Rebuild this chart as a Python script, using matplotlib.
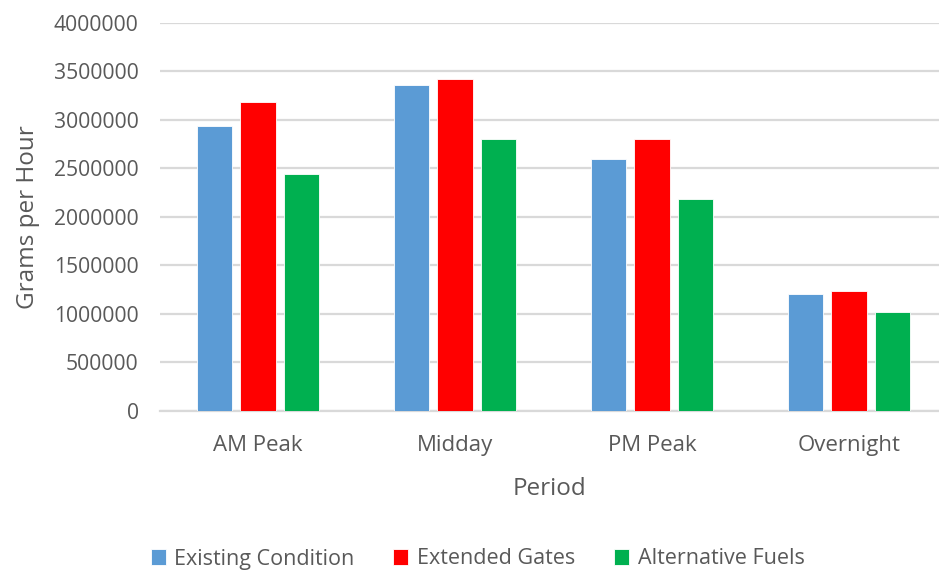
import matplotlib
matplotlib.use("Agg")
import matplotlib.pyplot as plt
import numpy as np

categories = ["AM Peak", "Midday", "PM Peak", "Overnight"]
series_names = ["Existing Condition", "Extended Gates", "Alternative Fuels"]
existing = [2933000, 3356000, 2596000, 1201000]
extended = [3188000, 3418000, 2803000, 1239000]
alternative = [2444000, 2803000, 2186000, 1022000]
yticks = [0, 500000, 1000000, 1500000, 2000000, 2500000, 3000000, 3500000, 4000000]
colors = ["#5B9BD5", "#FF0000", "#00B050"]

plt.rcParams['font.family'] = ['Open Sans', 'DejaVu Sans']
txt = "#595959"
grid = "#D9D9D9"

W, H = 939, 571
fig = plt.figure(figsize=(W / 100, H / 100), dpi=100)
left_px, right_px, top_px, bot_px = 159.5, 939, 23, 410.6
ax = fig.add_axes([left_px / W, 1 - bot_px / H, (right_px - left_px) / W, (bot_px - top_px) / H])

x = np.arange(len(categories))
bw = 0.178
step = 0.223
for i, (vals, name, c) in enumerate(zip([existing, extended, alternative], series_names, colors)):
    ax.bar(x + (i - 1) * step, vals, width=bw, color=c, label=name,
           edgecolor="white", linewidth=0.6, zorder=3)

ax.set_ylim(0, 4000000)
cat_px = 197.0
ax.set_xlim(-0.5, 3.5 - (947.5 - 939) / cat_px)
ax.set_yticks(yticks)
ax.set_yticklabels([str(v) for v in yticks])
ax.set_xticks(x)
ax.set_xticklabels(categories)
ax.yaxis.grid(True, color=grid, linewidth=1.6, zorder=0)
ax.set_axisbelow(True)
for s in ["left", "right", "top"]:
    ax.spines[s].set_visible(False)
ax.spines["bottom"].set_color(grid)
ax.spines["bottom"].set_linewidth(1.6)
ax.tick_params(axis="y", length=0, colors=txt, labelsize=15.2, pad=15)
ax.tick_params(axis="x", length=0, colors=txt, labelsize=16, pad=17.5)
ax.set_ylabel("Grams per Hour", fontsize=17.5, color=txt, labelpad=10)
ax.set_xlabel("Period", fontsize=17.5, color=txt, labelpad=15)

leg = fig.legend(loc="center", bbox_to_anchor=(477.5 / W, 1 - 559 / H), ncol=3,
                 frameon=False, fontsize=15.5, handlelength=0.7, handleheight=0.7,
                 handletextpad=0.4, columnspacing=1.8, labelcolor=txt)

fig.savefig("out.png", dpi=100)
